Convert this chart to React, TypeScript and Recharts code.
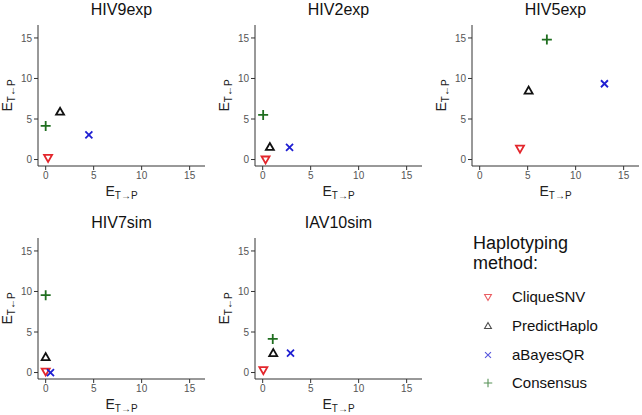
import { Label, Scatter, ScatterChart, XAxis, YAxis } from "recharts";

const datasets = ["HIV9exp", "HIV2exp", "HIV5exp", "HIV7sim", "IAV10sim"];
const methods = ["CliqueSNV", "PredictHaplo", "aBayesQR", "Consensus"];
const ticks = [0, 5, 10, 15];

// E(T->P) and E(T<-P) per dataset, one pair of arrays per method
const cliqueX = [0.25, 0.3, 4.2, 0, 0.07];
const cliqueY = [0.2, 0, 1.35, 0.12, 0.3];
const predictX = [1.5, 0.75, 5.1, 0, 1.1];
const predictY = [5.9, 1.55, 8.5, 1.9, 2.4];
const bayesX = [4.5, 2.8, 13.0, 0.5, 2.9];
const bayesY = [3.05, 1.5, 9.35, 0, 2.4];
const consX = [0, 0.05, 7.0, 0, 1.05];
const consY = [4.15, 5.5, 14.8, 9.55, 4.15];

const COLORS: Record<string, string> = {
  CliqueSNV: "#e3262c",
  PredictHaplo: "#111111",
  aBayesQR: "#1f1fd2",
  Consensus: "#1f6e1f",
};

const FONT = "'Liberation Sans', Arial, sans-serif";
const LEFTS = [0, 217, 434, 0, 217];
const TOPS = [0, 0, 0, 213, 213];

function Marker({ kind, cx, cy, s = 1, sw = 1.8, op = 1 }: any) {
  const c = COLORS[kind];
  const common = { stroke: c, strokeWidth: sw, fill: "none", opacity: op };
  if (kind === "CliqueSNV")
    return (
      <path
        d={`M${cx - 4 * s},${cy - 3 * s} L${cx + 4 * s},${cy - 3 * s} L${cx},${cy + 4 * s} Z`}
        {...common}
      />
    );
  if (kind === "PredictHaplo")
    return (
      <path
        d={`M${cx - 4 * s},${cy + 3 * s} L${cx + 4 * s},${cy + 3 * s} L${cx},${cy - 4 * s} Z`}
        {...common}
      />
    );
  if (kind === "aBayesQR")
    return (
      <path
        d={`M${cx - 3.5 * s},${cy - 3.5 * s} L${cx + 3.5 * s},${cy + 3.5 * s} M${cx - 3.5 * s},${cy + 3.5 * s} L${cx + 3.5 * s},${cy - 3.5 * s}`}
        {...common}
      />
    );
  return (
    <path
      d={`M${cx - 5 * s},${cy} L${cx + 5 * s},${cy} M${cx},${cy - 5 * s} L${cx},${cy + 5 * s}`}
      {...common}
    />
  );
}

const seriesX: Record<string, number[]> = {
  CliqueSNV: cliqueX,
  PredictHaplo: predictX,
  aBayesQR: bayesX,
  Consensus: consX,
};
const seriesY: Record<string, number[]> = {
  CliqueSNV: cliqueY,
  PredictHaplo: predictY,
  aBayesQR: bayesY,
  Consensus: consY,
};

const xLabel = (props: any) => {
  const { x, y, width } = props.viewBox;
  return (
    <text x={x + width / 2} y={y + 30} textAnchor="middle" fill="#222" fontFamily={FONT}>
      <tspan fontSize={14}>E</tspan>
      <tspan fontSize={10} dy={3}>T→P</tspan>
    </text>
  );
};

const yLabel = (props: any) => {
  const { x, y, height } = props.viewBox;
  const cx = x + 9;
  const cy = y + height / 2;
  return (
    <text
      x={cx}
      y={cy}
      textAnchor="middle"
      fill="#222"
      fontFamily={FONT}
      transform={`rotate(-90 ${cx} ${cy})`}
    >
      <tspan fontSize={14}>E</tspan>
      <tspan fontSize={10} dy={3}>T←P</tspan>
    </text>
  );
};

function Panel({ idx }: { idx: number }) {
  return (
    <div style={{ position: "absolute", left: LEFTS[idx], top: TOPS[idx] }}>
      <div
        style={{
          position: "absolute",
          left: 38,
          width: 167,
          top: 0,
          textAlign: "center",
          fontFamily: FONT,
          fontSize: 16,
          lineHeight: "20px",
          color: "#111",
        }}
      >
        {datasets[idx]}
      </div>
      <ScatterChart width={214} height={208} margin={{ top: 25, right: 9, left: 3, bottom: 0 }}>
        <XAxis
          type="number"
          dataKey="x"
          domain={[-0.8, 16.6]}
          ticks={ticks}
          allowDataOverflow
          height={42}
          tickSize={4}
          tickMargin={2}
          stroke="#333"
          tick={{ fill: "#555", fontSize: 10, fontFamily: FONT }}
        >
          <Label content={xLabel} />
        </XAxis>
        <YAxis
          type="number"
          dataKey="y"
          domain={[-0.8, 16.6]}
          ticks={ticks}
          allowDataOverflow
          width={35}
          tickSize={4}
          tickMargin={2}
          stroke="#333"
          tick={{ fill: "#555", fontSize: 10, fontFamily: FONT }}
        >
          <Label content={yLabel} />
        </YAxis>
        {methods.map((m) => (
          <Scatter
            key={m}
            name={m}
            data={[{ x: seriesX[m][idx], y: seriesY[m][idx] }]}
            isAnimationActive={false}
            shape={(p: any) => <Marker kind={m} cx={p.cx} cy={p.cy} />}
          />
        ))}
      </ScatterChart>
    </div>
  );
}

function LegendBox() {
  const itemTops = [297, 326, 355, 383];
  return (
    <div style={{ position: "absolute", left: 0, top: 0, fontFamily: FONT }}>
      <div
        style={{
          position: "absolute",
          left: 473,
          top: 233,
          fontSize: 18,
          lineHeight: "20px",
          color: "#111",
          whiteSpace: "nowrap",
        }}
      >
        Haplotyping
        <br />
        method:
      </div>
      {methods.map((m, i) => (
        <div key={m}>
          <svg
            width={20}
            height={20}
            style={{ position: "absolute", left: 478, top: itemTops[i] - 10 }}
          >
            <Marker kind={m} cx={10} cy={10} s={0.85} sw={1.1} op={0.75} />
          </svg>
          <div
            style={{
              position: "absolute",
              left: 512,
              top: itemTops[i] - 10,
              fontSize: 15,
              lineHeight: "20px",
              color: "#111",
              whiteSpace: "nowrap",
            }}
          >
            {m}
          </div>
        </div>
      ))}
    </div>
  );
}

export default function App() {
  return (
    <div
      style={{
        position: "absolute",
        left: 0,
        top: 0,
        width: 642,
        height: 415,
        background: "#fff",
      }}
    >
      {datasets.map((_, i) => (
        <Panel key={i} idx={i} />
      ))}
      <LegendBox />
    </div>
  );
}
